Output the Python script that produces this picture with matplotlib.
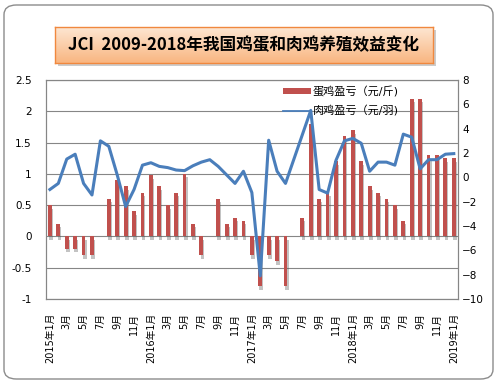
import numpy as np
import matplotlib
matplotlib.use('Agg')
import matplotlib.pyplot as plt
import matplotlib.patheffects as pe
from matplotlib.patches import FancyBboxPatch, Rectangle, Patch
from matplotlib.lines import Line2D
from matplotlib.colors import LinearSegmentedColormap

plt.rcParams['font.family'] = ['DejaVu Sans', 'Noto Sans CJK SC']

# monthly data, 2015年1月 - 2019年1月
egg = [0.5, 0.2, -0.2, -0.2, -0.3, -0.3, 0, 0.6, 0.9, 0.8, 0.4, 0.7,
       0.98, 0.8, 0.5, 0.7, 1.0, 0.2, -0.3, 0, 0.6, 0.2, 0.3, 0.25,
       -0.3, -0.8, -0.3, -0.4, -0.8, 0, 0.3, 1.8, 0.6, 0.7, 1.2, 1.6,
       1.7, 1.2, 0.8, 0.7, 0.6, 0.5, 0.25, 2.2, 2.2, 1.3, 1.3, 1.25,
       1.25]
broiler = [-1.0, -0.5, 1.5, 1.9, -0.5, -1.45, 3.0, 2.55, 0.2, -2.4, -1.0, 1.0,
           1.2, 0.9, 0.8, 0.6, 0.55, 0.95, 1.25, 1.45, 0.9, 0.2, -0.5, 0.5,
           -1.25, -8.1, 3.05, 0.5, -0.5, 1.5, 3.5, 5.5, -1.0, -1.3, 1.4, 3.0,
           3.2, 2.8, 0.5, 1.25, 1.25, 1.0, 3.55, 3.3, 0.7, 1.45, 1.45, 1.9,
           1.95]
years = [2015, 2016, 2017, 2018, 2019]
egg_label = '蛋鸡盈亏（元/斤)'
broiler_label = '肉鸡盈亏（元/羽)'
title = 'JCI  2009-2018年我国鸡蛋和肉鸡养殖效益变化'

xlabels = []
for i in range(len(egg)):
    m = i % 12 + 1
    if m == 1:
        xlabels.append('%d年1月' % years[i // 12])
    else:
        xlabels.append('%d月' % m)

grid_c = '#868686'
bar_c = '#c0504d'
line_c = '#4a7ebb'

fig = plt.figure(figsize=(5, 3.84), dpi=100)

frame = FancyBboxPatch((4/500, 5/384), 489/500, 374/384,
                       boxstyle='round,pad=0,rounding_size=0.025',
                       transform=fig.transFigure, fc='white', ec='#8c8c8c',
                       lw=1, zorder=-2)
fig.patches.append(frame)

ax = fig.add_axes([45.7/500, 1-299/384, 412.3/500, 219/384])
ax.patch.set_alpha(0)
x = np.arange(len(egg))
bars = ax.bar(x, egg, width=0.45, color=bar_c, zorder=3)
for b in bars:
    b.set_path_effects([pe.SimplePatchShadow(offset=(0.8, -2.5), shadow_rgbFace='#555555', alpha=0.35),
                        pe.Normal()])
ax.set_xlim(-0.5, len(egg) - 0.5)
ax.set_ylim(-1, 2.5)
yt = np.arange(-1, 2.51, 0.5)
ax.set_yticks(yt)
ax.set_yticklabels(['%g' % v for v in yt])
ax.yaxis.grid(True, color=grid_c, lw=0.8)
ax.set_axisbelow(True)
ax.set_xticks(x[::2])
ax.set_xticklabels(xlabels[::2], rotation=90, fontsize=7)
ax.tick_params(axis='x', length=0, pad=10)
ax.tick_params(axis='y', length=0, pad=10, labelsize=7.5)
for s in ax.spines.values():
    s.set_color(grid_c)
    s.set_linewidth(0.8)

ax2 = ax.twinx()
ax2.plot(x, broiler, color=line_c, lw=2.2, zorder=4)
ax2.set_ylim(-10, 8)
ax2.set_yticks(range(-10, 9, 2))
ax2.tick_params(axis='y', length=0, pad=3, labelsize=7.5)
for s in ax2.spines.values():
    s.set_color(grid_c)
    s.set_linewidth(0.8)

handles = [Patch(fc=bar_c), Line2D([], [], color=line_c, lw=1.3)]
ax2.legend(handles, [egg_label, broiler_label], loc='upper left',
           bbox_to_anchor=(283/500, 1-86/384), bbox_transform=fig.transFigure,
           frameon=False, fontsize=8, handlelength=2.5, handleheight=0.5,
           labelspacing=0.75, handletextpad=0.2, borderaxespad=0, borderpad=0)

# title box with gradient and shadow
shadow = Rectangle((58/500, 1-66/384), 378/500, 35.7/384, transform=fig.transFigure,
                   fc='#9a9a9a', alpha=0.5, zorder=-1)
fig.patches.append(shadow)
tax = fig.add_axes([55/500, 1-62.7/384, 378/500, 35.7/384])
cmap = LinearSegmentedColormap.from_list('tb', ['#f9b681', '#fde6d2'])
tax.imshow(np.linspace(0, 1, 50).reshape(-1, 1), cmap=cmap, aspect='auto',
           extent=[0, 1, 0, 1], origin='lower')
tax.set_xticks([])
tax.set_yticks([])
for s in tax.spines.values():
    s.set_color('#f0883e')
    s.set_linewidth(1)
tax.text(0.5, 0.48, title, ha='center', va='center', fontsize=12, weight='bold',
         family=['Noto Sans CJK SC'], color='black')

plt.savefig('out.png', dpi=100)
